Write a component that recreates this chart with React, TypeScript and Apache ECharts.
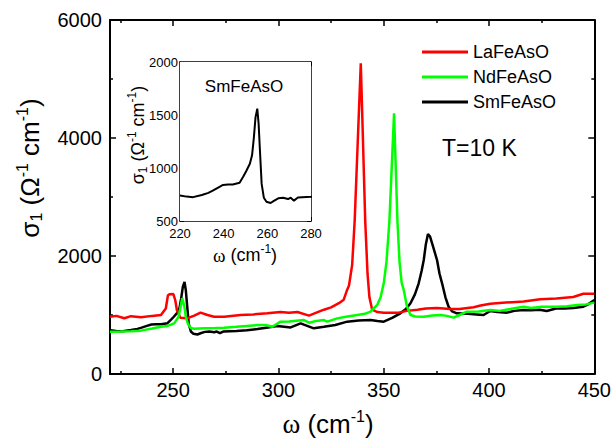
import React, { useEffect, useRef } from 'react';
import * as echarts from 'echarts';

// LaFeAsO (red)
const laX = [220, 223, 226.8, 230, 234.7, 240, 244.2, 246.5, 247.5, 248.1, 250.1, 251, 251.8, 253.4, 256.6, 260, 263, 266.3, 269.4, 274.2, 282, 288, 294.7, 301, 305, 309, 314.5, 318, 321.6, 325, 328.7, 331, 332.6, 333.5, 335, 336.2, 339.1, 341.2, 342.3, 343.2, 344.5, 347, 350, 353.2, 357, 361, 366, 370, 375.3, 381.6, 386, 392.7, 396, 400.6, 408, 416.4, 424.3, 432, 440, 444.8, 450];
const laY = [970, 985, 944, 980, 960, 985, 1000, 1110, 1330, 1350, 1355, 1250, 1076, 955, 944, 990, 1040, 1000, 971, 972, 1000, 1010, 1028, 1050, 1040, 1050, 990, 1040, 1090, 1130, 1200, 1260, 1425, 1500, 1850, 2600, 5266, 2600, 1700, 1300, 1090, 1050, 1040, 1040, 1040, 1070, 1090, 1110, 1120, 1100, 1100, 1130, 1160, 1190, 1210, 1230, 1265, 1280, 1305, 1360, 1360];

// NdFeAsO (green)
const ndX = [220, 225, 230, 234.7, 240, 244.2, 247.3, 250.5, 252.6, 254.3, 255.3, 256, 257, 258.4, 259.9, 265, 270, 274.2, 280, 285, 290, 294, 297.1, 301, 305, 312.1, 314.5, 318, 321.6, 323.2, 327.9, 332, 337.4, 341, 343.7, 346.9, 348.5, 350, 351.3, 352.7, 354.9, 356.5, 357.5, 358.5, 359.5, 361, 362.7, 365, 369, 373, 376.9, 380, 383.2, 386, 389.5, 395, 400.6, 405, 410, 416.4, 420, 425, 432.2, 437, 442, 446, 450];
const ndY = [717, 720, 725, 735, 770, 800, 815, 859, 972, 1283, 1150, 971, 850, 780, 768, 775, 780, 785, 800, 815, 830, 830, 800, 887, 890, 915, 870, 900, 915, 887, 943, 970, 1000, 1020, 1056, 1170, 1300, 1537, 1900, 2600, 4418, 2600, 1900, 1550, 1424, 1150, 1000, 975, 971, 990, 1000, 985, 955, 1000, 1056, 1060, 1085, 1070, 1100, 1140, 1120, 1140, 1140, 1150, 1170, 1180, 1210];

// SmFeAsO (black)
const smX = [220, 223, 226, 230, 233, 235, 237.5, 239.7, 242, 244.2, 247.3, 249, 250.3, 252, 253, 253.8, 254.6, 255.4, 256, 256.6, 257.4, 258.4, 259.6, 261.5, 263, 265, 267.2, 269.5, 270.7, 272.2, 274, 280, 285, 290, 295, 299.5, 305.8, 310.5, 316.8, 321.6, 327, 332.6, 338, 343.7, 347, 350, 354, 357.9, 360.5, 362.7, 364.8, 366.6, 368, 369, 370, 371, 372, 373.5, 375.3, 376.5, 377.7, 379.3, 380.8, 382.5, 384.7, 390, 394, 397.4, 400.6, 404, 408.5, 412, 416.4, 420, 424, 427.4, 432.2, 436, 440, 444.8, 447, 450];
const smY = [740, 730, 725, 745, 765, 786, 815, 840, 845, 845, 861, 920, 970, 1040, 1120, 1280, 1480, 1560, 1420, 1170, 850, 720, 682, 670, 690, 714, 720, 707, 720, 692, 722, 728, 740, 763, 790, 813, 790, 858, 774, 800, 830, 887, 905, 915, 900, 887, 950, 1028, 1100, 1198, 1350, 1537, 1750, 1932, 2200, 2373, 2330, 2150, 1932, 1700, 1537, 1300, 1140, 1060, 1028, 1020, 1010, 1000, 1068, 1050, 1040, 1070, 1085, 1080, 1090, 1068, 1113, 1110, 1120, 1140, 1180, 1255];

const seriesNames = ['LaFeAsO', 'NdFeAsO', 'SmFeAsO'];
const seriesColors = ['#ff0000', '#00ff00', '#000000'];

const xMajorTicks = [250, 300, 350, 400, 450];
const xMinorTicks = [225, 275, 325, 375, 425];

const FONT = "'Liberation Sans', Arial, Helvetica, sans-serif";
const SERIF = "'Liberation Serif', 'Times New Roman', serif";

function pairs(xs: number[], ys: number[]) {
  return xs.map((x, i) => [x, ys[i]]);
}

const plain = (v: number) => String(v);

const AX = { color: '#000', width: 2 };
const TK = { color: '#000', width: 1.5 };

function mainX(position: string, major: boolean, labels: boolean) {
  return {
    type: 'value', gridIndex: 0, position, min: 220, max: 450,
    axisLine: { show: major, lineStyle: AX },
    axisTick: { show: true, inside: true, length: major ? 6 : 3, lineStyle: TK, customValues: major ? xMajorTicks : xMinorTicks },
    axisLabel: labels
      ? { show: true, customValues: xMajorTicks, formatter: plain, fontSize: 20, color: '#000', fontFamily: FONT, margin: 6 }
      : { show: false },
    splitLine: { show: false },
  };
}

function mainY(position: string, labels: boolean) {
  return {
    type: 'value', gridIndex: 0, position, min: 0, max: 6000, interval: 2000,
    axisLine: { show: true, lineStyle: AX },
    axisTick: { show: true, inside: true, length: 6, lineStyle: TK },
    minorTick: { show: true, splitNumber: 2, length: 3, lineStyle: TK },
    axisLabel: labels ? { show: true, formatter: plain, fontSize: 20, color: '#000', fontFamily: FONT, margin: 8 } : { show: false },
    splitLine: { show: false },
    minorSplitLine: { show: false },
  };
}

function insetX(position: string, labels: boolean) {
  return {
    type: 'value', gridIndex: 1, position, min: 220, max: 280, interval: 20,
    axisLine: { show: true, lineStyle: { color: '#000', width: 1.5 } },
    axisTick: { show: true, inside: true, length: 4, lineStyle: { color: '#000', width: 1 } },
    minorTick: { show: true, splitNumber: 2, length: 2, lineStyle: { color: '#000', width: 1 } },
    axisLabel: labels ? { show: true, formatter: plain, fontSize: 13, lineHeight: 12, color: '#000', fontFamily: FONT, margin: 6 } : { show: false },
    splitLine: { show: false },
    minorSplitLine: { show: false },
  };
}

function insetY(position: string, labels: boolean) {
  return {
    type: 'value', gridIndex: 1, position, min: 500, max: 2000, interval: 500,
    axisLine: { show: true, lineStyle: { color: '#000', width: 1.5 } },
    axisTick: { show: true, inside: true, length: 4, lineStyle: { color: '#000', width: 1 } },
    minorTick: { show: true, splitNumber: 2, length: 2, lineStyle: { color: '#000', width: 1 } },
    axisLabel: labels ? { show: true, formatter: plain, fontSize: 13, lineHeight: 8, color: '#000', fontFamily: FONT, margin: 2 } : { show: false },
    splitLine: { show: false },
    minorSplitLine: { show: false },
  };
}

function richLabel(big: number, small: number, up: number, down: number) {
  return {
    g: { fontFamily: SERIF, fontSize: big + 1, fill: '#000' },
    s: { fontFamily: FONT, fontSize: big, fill: '#000' },
    n: { fontFamily: FONT, fontSize: big, fill: '#000' },
    sup: { fontFamily: FONT, fontSize: small, fill: '#000', padding: [0, 0, up, 0] },
    sub: { fontFamily: FONT, fontSize: small, fill: '#000', padding: [down, 0, 0, 0] },
  };
}

const yLabelText = '{s|σ}{sub|1}{n| (Ω}{sup|-1}{n| cm}{sup|-1}{n|)}';
const xLabelText = '{g|ω}{n| (cm}{sup|-1}{n|)}';

export default function App() {
  const ref = useRef<HTMLDivElement>(null);
  useEffect(() => {
    if (!ref.current) return;
    const chart = echarts.init(ref.current, null, { renderer: 'svg' });
    const data = [pairs(laX, laY), pairs(ndX, ndY), pairs(smX, smY)];
    const order = [2, 0, 1];
    const mainSeries = order.map((i) => ({
      name: seriesNames[i],
      type: 'line',
      xAxisIndex: 0,
      yAxisIndex: 0,
      data: data[i],
      showSymbol: false,
      symbol: 'none',
      lineStyle: { color: seriesColors[i], width: 2.5 },
      itemStyle: { color: seriesColors[i] },
      z: 3,
    }));
    const option: any = {
      animation: false,
      backgroundColor: '#ffffff',
      color: seriesColors,
      grid: [
        { left: 110, right: 19, top: 20, bottom: 67, show: false },
        { left: 180, top: 62, width: 131, height: 159, show: true, backgroundColor: '#ffffff', borderWidth: 0, z: 5 },
      ],
      legend: {
        data: seriesNames,
        orient: 'vertical',
        left: 422,
        top: 42,
        itemWidth: 46,
        itemHeight: 3,
        itemGap: 5,
        icon: 'rect',
        padding: 0,
        selectedMode: false,
        textStyle: { fontSize: 18, fontFamily: FONT, color: '#000', lineHeight: 20 },
      },
      xAxis: [
        mainX('bottom', true, true),
        mainX('bottom', false, false),
        mainX('top', true, false),
        mainX('top', false, false),
        insetX('bottom', true),
        insetX('top', false),
      ],
      yAxis: [
        mainY('left', true),
        mainY('right', false),
        insetY('left', true),
        insetY('right', false),
      ],
      series: [
        ...mainSeries,
        {
          name: 'SmFeAsO (inset)',
          type: 'line',
          xAxisIndex: 4,
          yAxisIndex: 2,
          data: pairs(smX, smY),
          showSymbol: false,
          symbol: 'none',
          clip: true,
          lineStyle: { color: '#000', width: 2 },
          itemStyle: { color: '#000' },
          z: 6,
        },
      ],
      graphic: [
        {
          type: 'text', x: 30, y: 168, rotation: Math.PI / 2,
          style: { text: yLabelText, rich: richLabel(26, 16, 16, 12), align: 'center', verticalAlign: 'middle', fill: '#000', fontFamily: FONT, fontSize: 26 },
        },
        {
          type: 'text', x: 328, y: 424,
          style: { text: xLabelText, rich: richLabel(26, 16, 16, 12), align: 'center', verticalAlign: 'middle', fill: '#000', fontFamily: FONT, fontSize: 26 },
        },
        {
          type: 'text', x: 138, y: 135, rotation: Math.PI / 2, z: 10,
          style: { text: yLabelText, rich: richLabel(18, 12, 12, 9), align: 'center', verticalAlign: 'middle', fill: '#000', fontFamily: FONT, fontSize: 18 },
        },
        {
          type: 'text', x: 245, y: 255, z: 10,
          style: { text: xLabelText, rich: richLabel(18, 12, 12, 9), align: 'center', verticalAlign: 'middle', fill: '#000', fontFamily: FONT, fontSize: 18 },
        },
        {
          type: 'text', x: 244, y: 86, z: 10,
          style: { text: 'SmFeAsO', align: 'center', verticalAlign: 'middle', fill: '#000', fontFamily: FONT, fontSize: 17 },
        },
        {
          type: 'text', x: 442, y: 148,
          style: { text: 'T=10 K', align: 'left', verticalAlign: 'middle', fill: '#000', fontFamily: FONT, fontSize: 23 },
        },
      ],
    };
    chart.setOption(option);
    return () => chart.dispose();
  }, []);
  return <div ref={ref} style={{ position: 'absolute', left: 0, top: 0, width: 614, height: 441, background: '#fff' }} />;
}
